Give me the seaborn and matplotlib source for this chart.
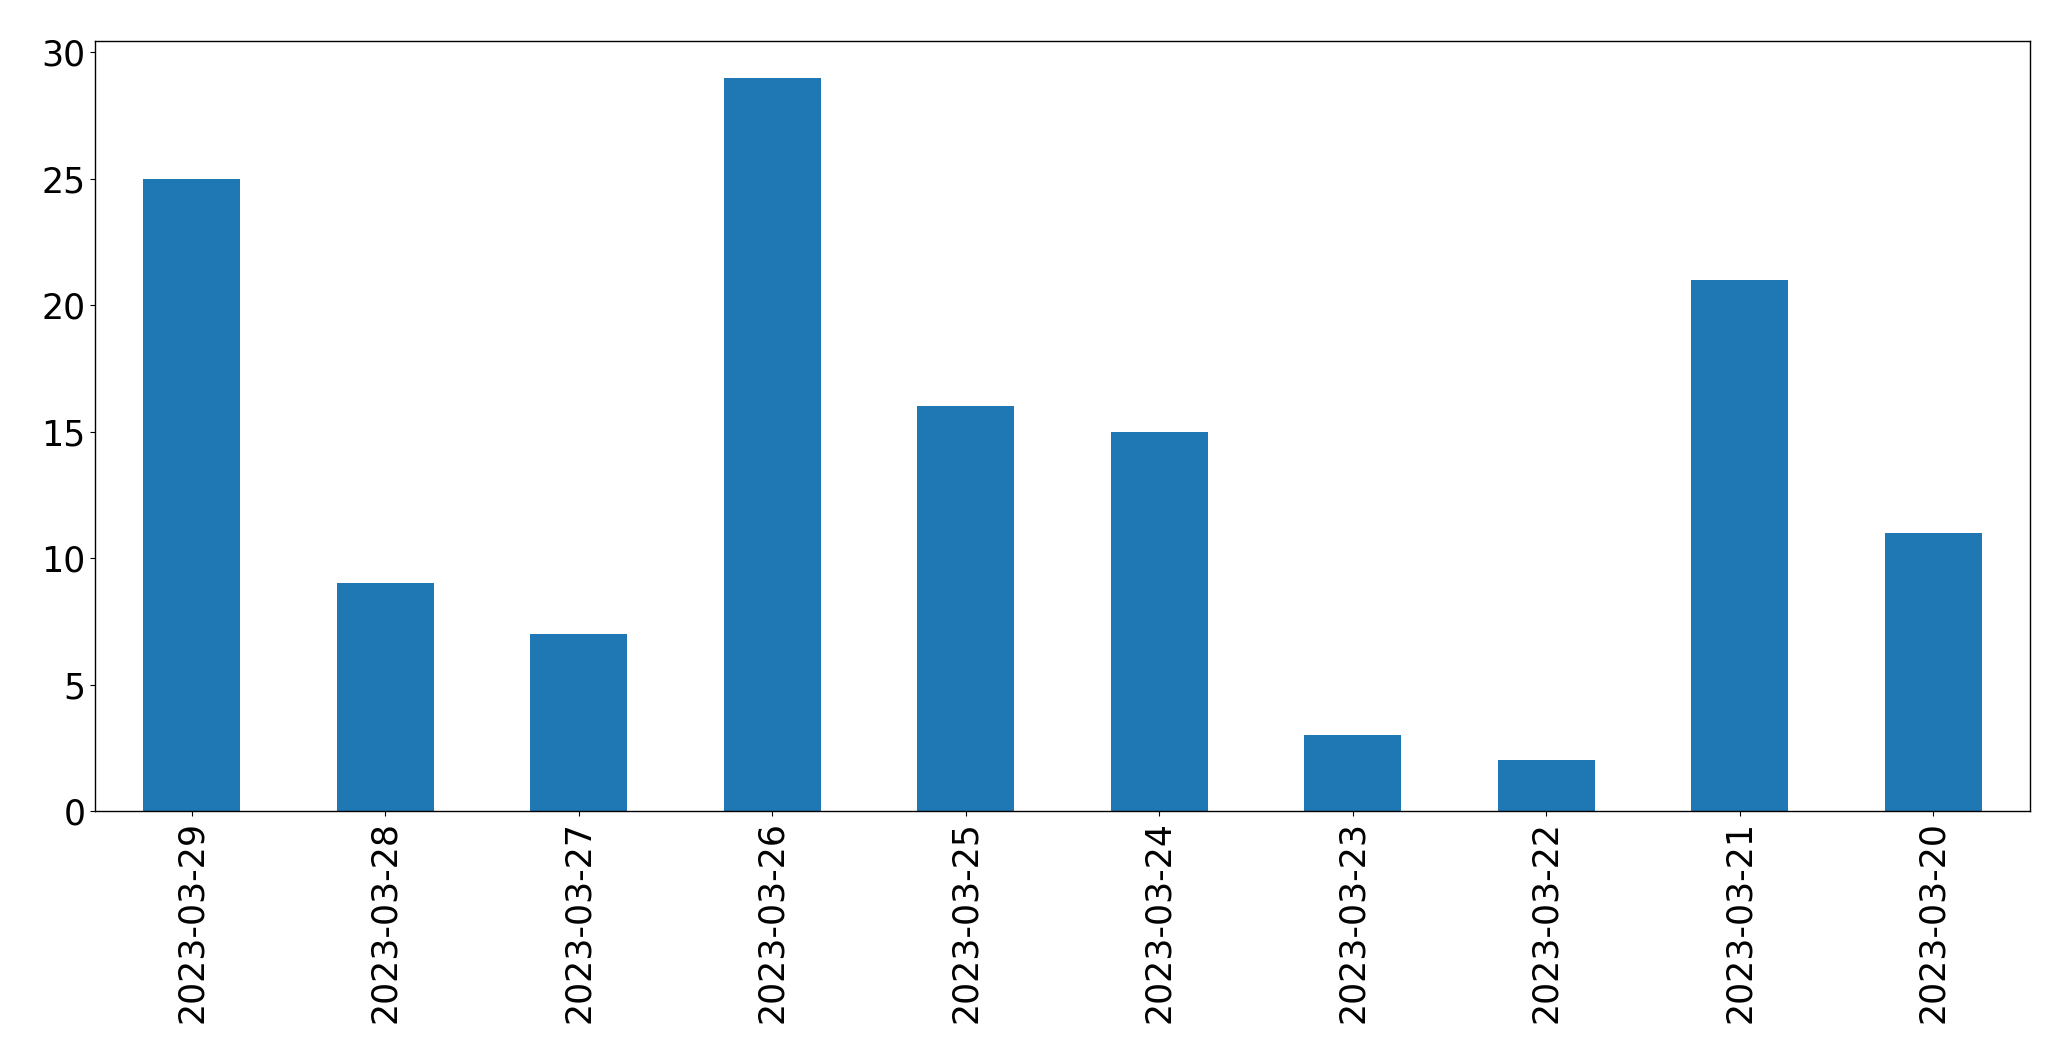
import matplotlib
matplotlib.use("Agg")
import matplotlib.pyplot as plt
import seaborn as sns
import pandas as pd

# 数据
dates = ['2023-03-29', '2023-03-28', '2023-03-27', '2023-03-26', '2023-03-25',
         '2023-03-24', '2023-03-23', '2023-03-22', '2023-03-21', '2023-03-20']
counts = [25, 9, 7, 29, 16, 15, 3, 2, 21, 11]

sns.set_style('ticks', {'text.color': 'black', 'xtick.color': 'black',
                        'ytick.color': 'black', 'axes.edgecolor': 'black',
                        'axes.labelcolor': 'black'})
plt.rcParams['font.family'] = ['DejaVu Sans']

df = pd.DataFrame({'date': dates, 'count': counts})

fig = plt.figure(figsize=(20.71, 10.63), dpi=100)
ax = fig.add_axes([95 / 2071, 1 - 811 / 1063, (2030 - 95) / 2071, (811 - 41) / 1063])

sns.barplot(data=df, x='date', y='count', order=dates, color='#1f77b4',
            saturation=1, width=0.5, linewidth=0, edgecolor='none', ax=ax)

ax.set_xlim(-0.5, len(dates) - 0.5)
ax.set_ylim(0, max(counts) * 1.05)
ax.set_xlabel('')
ax.set_ylabel('')
ax.tick_params(axis='x', labelrotation=90, labelsize=25, colors='black')
ax.tick_params(axis='y', labelsize=25, colors='black')
for s in ax.spines.values():
    s.set_visible(True)
    s.set_linewidth(1)
    s.set_color('black')

fig.savefig('out.png', dpi=100)
